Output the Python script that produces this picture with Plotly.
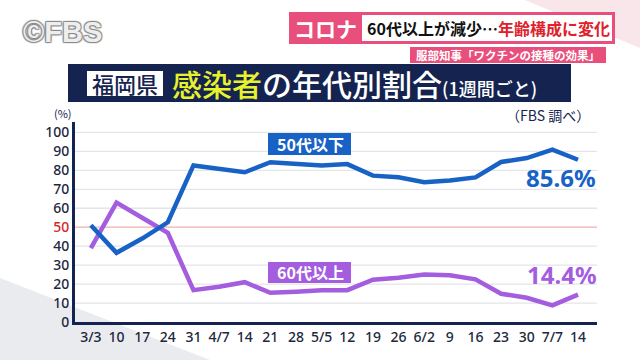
import plotly.graph_objects as go

dates = ["3/3", "10", "17", "24", "31", "4/7", "14", "21", "28", "5/5",
         "12", "19", "26", "6/2", "9", "16", "23", "30", "7/7", "14"]
under50 = [51, 36.5, 44, 52.6, 82.6, 81, 79, 84.3, 83.5, 82.5,
           83.3, 77.2, 76.3, 73.7, 74.7, 76.3, 84.4, 86.5, 90.9, 85.6]
over60 = [39, 63, 55, 47, 16.8, 18.6, 21, 15.4, 16, 16.7,
          16.8, 22.3, 23.3, 25, 24.7, 22.5, 14.9, 12.8, 8.8, 14.4]
yticks = [0, 10, 20, 30, 40, 50, 60, 70, 80, 90, 100]

W, H = 640, 360
L, R, T, B = 75, 43, 122, 38
PW, PH = W - L - R, H - T - B

def px(x, y):
    return (x - L) / PW, (H - B - y) / PH

def path(points):
    s = ""
    for i, (x, y) in enumerate(points):
        a, b = px(x, y)
        s += ("M" if i == 0 else "L") + f"{a:.5f},{b:.5f} "
    return s + "Z"

def rect(x0, y0, x1, y1, fill, line=None, lw=0, layer="below"):
    a0, b0 = px(x0, y1)
    a1, b1 = px(x1, y0)
    return dict(type="rect", xref="paper", yref="paper", x0=a0, y0=b0, x1=a1, y1=b1,
                fillcolor=fill, line=dict(color=line or fill, width=lw), layer=layer)

def ann(x, y, text, size, color, xanchor="center", weight="normal", family="Noto Sans CJK JP", shadow=None):
    a, b = px(x, y)
    font = dict(size=size, color=color, family=family, weight=weight)
    if shadow:
        font["shadow"] = shadow
    return dict(xref="paper", yref="paper", x=a, y=b, text=text, showarrow=False,
                xanchor=xanchor, yanchor="middle", font=font)

BLUE = "#1862c6"
PURPLE = "#a45ddf"
NAVY = "#14234f"
PINK = "#e84f7c"

fig = go.Figure()
xs = list(range(len(dates)))
fig.add_trace(go.Scatter(x=xs, y=over60, mode="lines", line=dict(color=PURPLE, width=4.5),
                         name="60代以上", hoverinfo="skip"))
fig.add_trace(go.Scatter(x=xs, y=under50, mode="lines", line=dict(color=BLUE, width=4.5),
                         name="50代以下", hoverinfo="skip"))

shapes = []
# background decorations
shapes.append(dict(type="path", xref="paper", yref="paper", path=path([(0, 278), (210, 360), (0, 360)]),
                   fillcolor="#e9ebef", line=dict(width=0), layer="below"))
shapes.append(dict(type="path", xref="paper", yref="paper", path=path([(525, 0), (640, 0), (640, 48)]),
                   fillcolor="#f9e6ea", line=dict(width=0), layer="below"))
# grid lines
for v in yticks[1:]:
    color = "#f2b1ad" if v == 50 else "#e3e5ea"
    shapes.append(dict(type="line", xref="paper", yref="y", x0=0, x1=1, y0=v, y1=v,
                       line=dict(color=color, width=1.3), layer="below"))
# header banner
shapes.append(rect(289, 12, 615, 44, PINK, layer="above"))
shapes.append(rect(362, 15, 612, 41, "white", layer="above"))
shapes.append(rect(410, 47, 606, 63, PINK, layer="above"))
# title bar
shapes.append(rect(68, 64, 571, 102, NAVY, layer="above"))
shapes.append(rect(87, 71, 163, 96, "white", layer="above"))
# series label boxes
shapes.append(rect(268, 133, 351, 155, BLUE, layer="above"))
shapes.append(rect(268, 262, 351, 283, PURPLE, layer="above"))

annotations = [
    ann(62, 32, "©FBS", 29, "#eeeeee", weight="bold", family="Liberation Sans",
        shadow="1px 1px 1px #8a8a8a, -1px -1px 1px #8a8a8a, 1px -1px 1px #8a8a8a, -1px 1px 1px #8a8a8a"),
    ann(325, 28, "コロナ", 21, "white", weight="bold"),
    ann(488, 28, "60代以上が減少…<span style='color:#e0202a'>年齢構成に変化</span>", 16, "#111111", weight="bold"),
    ann(508, 55, "服部知事「ワクチンの接種の効果」", 11.5, "white", weight="bold"),
    ann(125, 83, "福岡県", 22, NAVY, weight=500),
    ann(170, 83, "<span style='color:#e8f22a'>感染者</span>の年代別割合<span style='font-size:18px'>(1週間ごと)</span>",
        30, "white", xanchor="left", weight=500),
    ann(63, 113, "(%)", 11, NAVY),
    ann(548, 115, "（FBS 調べ）", 14, NAVY),
    ann(310, 144, "50代以下", 16, "white", weight="bold"),
    ann(310, 272, "60代以上", 16, "white", weight="bold"),
    ann(561, 177, "85.6%", 24, BLUE, weight="bold", family="Noto Sans"),
    ann(562, 274, "14.4%", 24, PURPLE, weight="bold", family="Noto Sans"),
]

ytext = [("<span style='color:#d42828'>50</span>" if v == 50 else str(v)) for v in yticks]
tickfont = dict(size=14, color="#1d2740", family="Noto Sans", weight=500)

fig.update_layout(
    width=W, height=H, autosize=False,
    margin=dict(l=L, r=R, t=T, b=B, pad=0),
    paper_bgcolor="white", plot_bgcolor="rgba(0,0,0,0)",
    showlegend=False,
    shapes=shapes, annotations=annotations,
    font=dict(family="Noto Sans CJK JP", color=NAVY),
    xaxis=dict(range=[-0.62, 19.74], tickmode="array", tickvals=xs, ticktext=dates,
               showgrid=False, zeroline=False, showline=True, linecolor=NAVY, linewidth=3,
               ticks="", tickfont=tickfont, fixedrange=True),
    yaxis=dict(range=[0, 105.5], tickmode="array", tickvals=yticks, ticktext=ytext,
               showgrid=False, zeroline=False, showline=True, linecolor=NAVY, linewidth=3,
               ticks="", tickfont=tickfont, fixedrange=True),
)

fig.write_html("out.html", config={"displayModeBar": False},
               post_script="document.body.style.margin='0';document.body.style.overflow='hidden';")
